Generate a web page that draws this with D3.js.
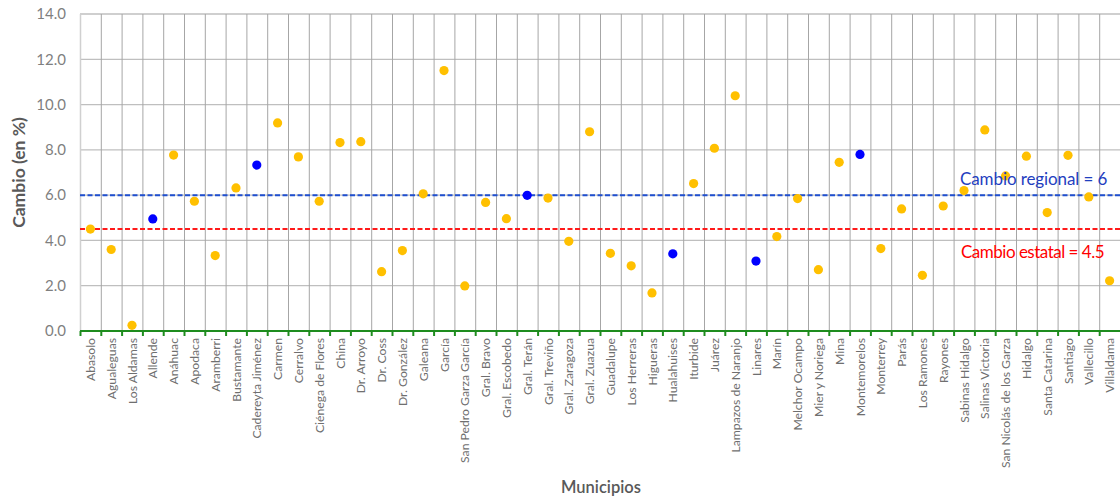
<!DOCTYPE html>
<html>
<head>
<meta charset="utf-8">
<script src="https://cdn.jsdelivr.net/npm/d3@7"></script>
<style>
  body { margin: 0; background: #fff; }
  svg text { font-family: Lato, "Open Sans", sans-serif; }
</style>
</head>
<body>
<svg id="chart" width="1120" height="500"></svg>
<script>
// municipios
var municipios = ["Abasolo", "Agualeguas", "Los Aldamas", "Allende", "Anáhuac", "Apodaca", "Aramberri",
    "Bustamante", "Cadereyta Jiménez", "Carmen", "Cerralvo", "Ciénega de Flores", "China", "Dr. Arroyo",
    "Dr. Coss", "Dr. González", "Galeana", "García", "San Pedro Garza García", "Gral. Bravo",
    "Gral. Escobedo", "Gral. Terán", "Gral. Treviño", "Gral. Zaragoza", "Gral. Zuazua", "Guadalupe",
    "Los Herreras", "Higueras", "Hualahuises", "Iturbide", "Juárez", "Lampazos de Naranjo", "Linares",
    "Marín", "Melchor Ocampo", "Mier y Noriega", "Mina", "Montemorelos", "Monterrey", "Parás",
    "Los Ramones", "Rayones", "Sabinas Hidalgo", "Salinas Victoria", "San Nicolás de los Garza",
    "Hidalgo", "Santa Catarina", "Santiago", "Vallecillo", "Villaldama"];

// cambio (en %) por municipio
var cambio = [4.5, 3.6, 0.25, 4.95, 7.77, 5.73, 3.33, 6.32, 7.33, 9.19, 7.69, 5.73, 8.32, 8.36,
    2.62, 3.55, 6.06, 11.5, 1.99, 5.68, 4.96, 5.99, 5.87, 3.96, 8.8, 3.43, 2.88, 1.68, 3.41,
    6.51, 8.07, 10.39, 3.09, 4.17, 5.85, 2.71, 7.45, 7.8, 3.64, 5.39, 2.46, 5.52, 6.2, 8.88,
    6.85, 7.72, 5.23, 7.76, 5.92, 2.22];

// municipios de la región (puntos azules)
var region = ["Allende", "Cadereyta Jiménez", "Gral. Terán", "Hualahuises", "Linares", "Montemorelos"];

var yTicks = [0, 2, 4, 6, 8, 10, 12, 14];
var cambioRegional = 6;
var cambioEstatal = 4.5;

var margin = { top: 14, right: 0, bottom: 169, left: 80 };
var width = 1120 - margin.left - margin.right;
var height = 500 - margin.top - margin.bottom;

var svg = d3.select("#chart");
var g = svg.append("g").attr("transform", "translate(" + margin.left + "," + margin.top + ")");

var x = d3.scaleBand().domain(municipios).range([0, width]);
var y = d3.scaleLinear().domain([0, 14]).range([height, 0]);

// horizontal gridlines
g.selectAll(".hgrid")
    .data(yTicks.slice(1))
    .enter().append("line")
    .attr("x1", 0).attr("x2", width)
    .attr("y1", function (d) { return y(d); })
    .attr("y2", function (d) { return y(d); })
    .attr("stroke", "#bfbfbf").attr("stroke-width", 1.3);

// vertical gridlines at category boundaries
g.selectAll(".vgrid")
    .data(municipios)
    .enter().append("line")
    .attr("x1", function (d) { return x(d) + 0.5; })
    .attr("x2", function (d) { return x(d) + 0.5; })
    .attr("y1", 0).attr("y2", height)
    .attr("stroke", function (d, i) { return i === 0 ? "#d0d0d0" : "#a6a6a6"; })
    .attr("stroke-width", function (d, i) { return i === 0 ? 1.5 : 1; });

// y axis labels
var yAxis = d3.axisLeft(y).tickValues(yTicks).tickSize(0).tickPadding(14)
    .tickFormat(d3.format(".1f"));
var ya = g.append("g").call(yAxis);
ya.select(".domain").remove();
ya.selectAll("text")
    .attr("fill", "#7f7f7f")
    .style("font-size", "15px");

// reference lines
g.append("line")
    .attr("x1", 0).attr("x2", width)
    .attr("y1", y(cambioRegional)).attr("y2", y(cambioRegional))
    .attr("stroke", "#1f4fd0").attr("stroke-width", 2)
    .attr("stroke-dasharray", "5,2.5");

g.append("line")
    .attr("x1", 0).attr("x2", width)
    .attr("y1", y(cambioEstatal)).attr("y2", y(cambioEstatal))
    .attr("stroke", "#ff1a1a").attr("stroke-width", 2)
    .attr("stroke-dasharray", "5,2.5");

// x axis (green line with ticks between categories)
g.append("line")
    .attr("x1", 0).attr("x2", width)
    .attr("y1", height).attr("y2", height)
    .attr("stroke", "#1e8c1e").attr("stroke-width", 2.2);

g.selectAll(".xtick")
    .data(municipios)
    .enter().append("line")
    .attr("x1", function (d) { return x(d) + 0.5; })
    .attr("x2", function (d) { return x(d) + 0.5; })
    .attr("y1", height).attr("y2", height + 5)
    .attr("stroke", "#1e8c1e").attr("stroke-width", 2);

// category labels
g.selectAll(".xlabel")
    .data(municipios)
    .enter().append("text")
    .attr("transform", function (d) {
        return "translate(" + (x(d) + x.bandwidth() / 2 + 4.5) + "," + (height + 7) + ") rotate(-90)";
    })
    .attr("text-anchor", "end")
    .attr("fill", "#6f6f6f")
    .style("font-size", "12.2px")
    .text(function (d) { return d; });

// points
g.selectAll(".dot")
    .data(municipios)
    .enter().append("circle")
    .attr("cx", function (d) { return x(d) + x.bandwidth() / 2; })
    .attr("cy", function (d, i) { return y(cambio[i]); })
    .attr("r", 4.6)
    .attr("fill", function (d) { return region.indexOf(d) >= 0 ? "#0000ff" : "#ffc000"; });

// reference labels
g.append("text")
    .attr("x", 880).attr("y", y(cambioRegional) - 10)
    .attr("fill", "#1f40c0")
    .style("font-size", "17px")
    .style("letter-spacing", "-0.1px")
    .text("Cambio regional = " + cambioRegional);

g.append("text")
    .attr("x", 881).attr("y", y(cambioEstatal) + 29)
    .attr("fill", "#ff0000")
    .style("font-size", "17px")
    .style("letter-spacing", "-0.5px")
    .text("Cambio estatal = " + cambioEstatal);

// axis titles
svg.append("text")
    .attr("transform", "translate(25," + (margin.top + height / 2) + ") rotate(-90)")
    .attr("text-anchor", "middle")
    .attr("fill", "#595959")
    .style("font-size", "17.5px")
    .style("font-weight", "bold")
    .text("Cambio (en %)");

svg.append("text")
    .attr("x", 601).attr("y", 493)
    .attr("text-anchor", "middle")
    .attr("fill", "#595959")
    .style("font-size", "16.5px")
    .style("font-weight", "600")
    .text("Municipios");
</script>
</body>
</html>
